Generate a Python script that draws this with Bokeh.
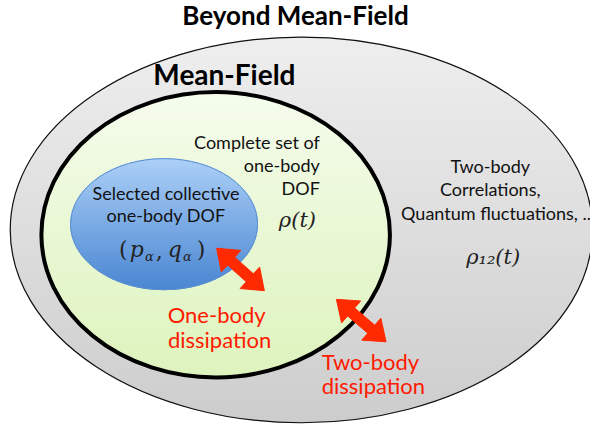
import numpy as np
from bokeh.plotting import figure
from bokeh.models import Range1d, Label
from bokeh.embed import file_html
from bokeh.resources import INLINE

# ---- data: regions of the diagram (reference pixel coordinates) ----
region_names = ["Beyond Mean-Field", "Mean-Field", "Selected collective"]
region_cx = [309, 221, 168]
region_cy = [238, 243, 232]
region_rx = [299, 179, 96]
region_ry = [200, 148, 68]
region_top_color = ["#eeeeee", "#f5fcec", "#acd0f7"]
region_bottom_color = ["#cdcdcd", "#ddf3bd", "#4a86d2"]
region_border = ["#111111", "#000000", "#5b8fd0"]
region_border_w = [1.2, 4.0, 1.0]

titles = ["Beyond Mean-Field", "Mean-Field"]
title_x = [303, 230]
title_y = [15, 76]
title_size = ["26px", "28px"]

black_lines = ["Complete set of", "one-body", "DOF",
               "Selected collective", "one-body DOF",
               "Two-body", "Correlations,", "Quantum fluctuations, .."]
black_x = [328, 328, 328, 170, 170, 503, 503, 509]
black_y = [147, 171, 195, 200, 223, 172, 196, 220]
black_align = ["right", "right", "right", "center", "center", "center", "center", "center"]

red_lines = ["One-body", "dissipation", "Two-body", "dissipation"]
red_x = [222, 225, 380, 383]
red_y = [326, 352, 374, 399]

arrow_x0 = [222, 345]
arrow_y0 = [257, 310]
arrow_x1 = [271, 396]
arrow_y1 = [301, 354]

W, H = 590, 429
p = figure(width=W, height=H, x_range=Range1d(0, 606), y_range=Range1d(445, 0),
           output_backend="svg", toolbar_location=None, min_border=0,
           background_fill_color="white", border_fill_color="white")
p.axis.visible = False
p.grid.visible = False
p.outline_line_color = None


def hex2rgb(h):
    h = h.lstrip("#")
    return np.array([int(h[i:i + 2], 16) for i in (0, 2, 4)], float)


def rgb2hex(c):
    return "#%02x%02x%02x" % tuple(int(round(v)) for v in c)


for i in range(len(region_names)):
    cx, cy, rx, ry = region_cx[i], region_cy[i], region_rx[i], region_ry[i]
    c0, c1 = hex2rgb(region_top_color[i]), hex2rgb(region_bottom_color[i])
    n = 60
    edges = np.linspace(cy - ry, cy + ry, n + 1)
    xs, ys, cols = [], [], []
    for k in range(n):
        yy = np.linspace(edges[k], edges[k + 1], 6)
        t = np.clip(1 - ((yy - cy) / ry) ** 2, 0, 1)
        half = rx * np.sqrt(t)
        xs.append(list(cx - half) + list((cx + half)[::-1]))
        ys.append(list(yy) + list(yy[::-1]))
        cols.append(rgb2hex(c0 + (c1 - c0) * (k + 0.5) / n))
    p.patches(xs, ys, fill_color=cols, line_color=cols, line_width=1)
    p.ellipse(x=[cx], y=[cy], width=[2 * rx], height=[2 * ry], fill_color=None,
              line_color=region_border[i], line_width=region_border_w[i])

for t, x, y, fs in zip(titles, title_x, title_y, title_size):
    p.add_layout(Label(x=x, y=y, text=t, text_align="center", text_baseline="middle",
                       text_font="Lato", text_font_style="bold", text_font_size=fs,
                       text_color="black"))

for t, x, y, al in zip(black_lines, black_x, black_y, black_align):
    p.add_layout(Label(x=x, y=y, text=t, text_align=al, text_baseline="middle",
                       text_font="Lato", text_font_size="18px", text_color="#111111"))

for t, x, y in zip(red_lines, red_x, red_y):
    p.add_layout(Label(x=x, y=y, text=t, text_align="center", text_baseline="middle",
                       text_font="Lato", text_font_size="22px", text_color="#ff1a00"))

# math symbols
math_font = "DejaVu Serif"
p.add_layout(Label(x=305, y=228, text="ρ(t)", text_align="center", text_baseline="middle",
                   text_font=math_font, text_font_style="italic", text_font_size="21px",
                   text_color="#222222"))
p.add_layout(Label(x=506, y=266, text="ρ₁₂(t)", text_align="center", text_baseline="middle",
                   text_font=math_font, text_font_style="italic", text_font_size="21px",
                   text_color="#222222"))
# (p_alpha, q_alpha) composed
parts = [("(", 126, 258, "22px", "normal"), ("p", 140, 258, "22px", "italic"),
         ("α", 153, 266, "13px", "italic"), (",", 163, 260, "22px", "normal"),
         ("q", 179, 258, "22px", "italic"), ("α", 192, 266, "13px", "italic"),
         (")", 206, 258, "22px", "normal")]
for t, x, y, fs, st in parts:
    p.add_layout(Label(x=x, y=y, text=t, text_align="center", text_baseline="middle",
                       text_font=math_font, text_font_style=st, text_font_size=fs,
                       text_color="#222222"))

# double-headed block arrows built from their end points
red = "#ff2a00"
head_len, head_half, shaft_half = 20.0, 15.0, 5.5
axs, ays = [], []
for x0, y0, x1, y1 in zip(arrow_x0, arrow_y0, arrow_x1, arrow_y1):
    a, b = np.array([x0, y0], float), np.array([x1, y1], float)
    u = (b - a) / np.linalg.norm(b - a)
    nrm = np.array([-u[1], u[0]])
    pts = [a,
           a + head_len * u + head_half * nrm,
           a + head_len * u + shaft_half * nrm,
           b - head_len * u + shaft_half * nrm,
           b - head_len * u + head_half * nrm,
           b,
           b - head_len * u - head_half * nrm,
           b - head_len * u - shaft_half * nrm,
           a + head_len * u - shaft_half * nrm,
           a + head_len * u - head_half * nrm]
    axs.append([q[0] for q in pts])
    ays.append([q[1] for q in pts])
p.patches(axs, ays, fill_color=red, line_color=red, line_width=1, line_join="miter")

open("out.html", "w").write(file_html(p, INLINE))
